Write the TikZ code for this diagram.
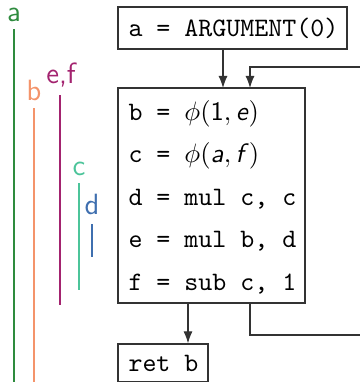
\documentclass[tikz,border=0pt]{standalone}
\usepackage{amsmath}
\usetikzlibrary{arrows.meta}

\definecolor{vara}{HTML}{2E8B3E}
\definecolor{varb}{HTML}{F4946B}
\definecolor{varef}{HTML}{A3236F}
\definecolor{varc}{HTML}{4CC49A}
\definecolor{vard}{HTML}{3F6FAF}

\newcommand{\svar}[1]{\textsf{\textit{#1}}}

\tikzset{
  block/.style={draw=black!80, line width=0.45pt, inner sep=0pt},
  code/.style={anchor=west, inner sep=0pt, font=\ttfamily},
  live/.style={line width=0.8pt},
  livelabel/.style={font=\sffamily\fontsize{11}{13}\selectfont, inner sep=0pt, anchor=south},
  flow/.style={draw=black!80, line width=0.45pt, -{Latex[length=1.6mm,width=1.2mm]}}
}

\begin{document}
\begin{tikzpicture}[x=0.0132cm, y=-0.0132cm]
  \useasboundingbox (0,0) rectangle (360,382);
  \clip (0,0) rectangle (360,382);

  % the blocks
  \node[block, minimum width=229*0.0132cm, minimum height=42*0.0132cm] (arg) at (232.5,28) {};
  \node[code] (la) at (128,28) {a = ARGUMENT(0)};

  \node[block, minimum width=187*0.0132cm, minimum height=215*0.0132cm] (body) at (211.5,195.5) {};
  \node[code] (lb) at (128,114) {b = $\phi(\textsf{1}, \svar{e})$};
  \node[code] (lc) at (128,156) {c = $\phi(\svar{a}, \svar{f})$};
  \node[code] (ld) at (128,199) {d = mul c, c};
  \node[code] (le) at (128,241) {e = mul b, d};
  \node[code] (lf) at (128,284) {f = sub c, 1};

  \node[block, minimum width=90*0.0132cm, minimum height=38*0.0132cm] (ret) at (163,363) {};
  \node[code] (lr) at (128,363) {ret b};

  % points for the edges
  \coordinate (in1) at (223,88);
  \coordinate (in2) at (250,88);
  \coordinate (out1) at (188,303);
  \coordinate (out2) at (250,303);
  \coordinate (loopb) at (375,335);
  \coordinate (loopt) at (375,67);

  % the edges
  \draw[flow] (arg.south -| in1) -- (in1);
  \draw[flow] (loopt) -- (loopt -| in2) -- (in2);
  \draw[draw=black!80, line width=0.45pt] (out2) -- (out2 |- loopb) -- (loopb);
  \draw[flow] (out1) -- (out1 |- ret.north);

  % live ranges
  \node[livelabel, text=vara] (ta) at (14,22) {a};
  \draw[live, vara] (14,29) -- (14,382);
  \node[livelabel, text=varb] (tb) at (34,101) {b};
  \draw[live, varb] (34,108) -- (34,382);
  \node[livelabel, text=varef] (tef) at (61,88) {e,f};
  \draw[live, varef] (60,95) -- (60,305);
  \node[livelabel, text=varc] (tc) at (79,176) {c};
  \draw[live, varc] (79,183) -- (79,290);
  \node[livelabel, text=vard] (td) at (92,215) {d};
  \draw[live, vard] (92,224) -- (92,257);
\end{tikzpicture}
\end{document}
